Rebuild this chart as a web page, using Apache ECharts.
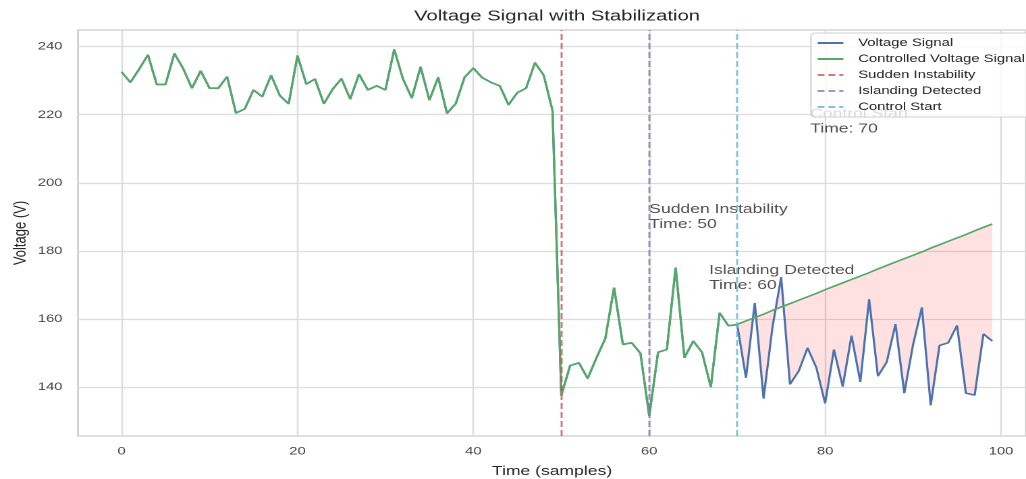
<!DOCTYPE html>
<html>
<head>
<meta charset="utf-8">
<title>Voltage Signal with Stabilization</title>
<script src="https://cdn.jsdelivr.net/npm/echarts@6/dist/echarts.min.js"></script>
<style>
  html, body { margin: 0; padding: 0; background: #ffffff; overflow: hidden; }
  /* The figure is drawn on a narrower canvas and widened to its display width */
  #chart { width: 760px; height: 479px; transform: scaleX(1.35); transform-origin: 0 0; }
</style>
</head>
<body>
<div id="chart"></div>
<script>
// Samples 0..69: measured voltage (identical for raw and controlled signal)
const baseline = [
  232.6, 229.5, 233.4, 237.6, 228.9, 228.9, 238.0, 233.6, 227.8, 232.9,
  227.8, 227.8, 231.2, 220.5, 221.7, 227.3, 225.3, 231.6, 225.6, 223.2,
  237.4, 229.0, 230.5, 223.2, 227.5, 230.6, 224.6, 231.9, 227.3, 228.5,
  227.3, 239.2, 230.5, 224.9, 234.1, 224.3, 231.0, 220.4, 223.3, 231.0,
  233.7, 230.9, 229.5, 228.5, 222.9, 226.5, 227.8, 235.3, 231.6, 221.2,
  137.5, 146.3, 147.1, 142.5, 148.6, 154.2, 169.2, 152.5, 153.0, 149.9,
  131.5, 150.2, 151.0, 175.1, 148.6, 153.5, 150.2, 140.0, 161.8, 158.0
];
// Samples 70..99: uncontrolled islanded voltage
const islandTail = [
  158.3, 142.7, 164.7, 136.6, 157.4, 172.3, 140.8, 144.7, 151.5, 145.7,
  135.2, 151.0, 140.1, 155.1, 141.5, 165.8, 143.2, 147.3, 158.5, 138.2,
  152.5, 163.4, 134.6, 152.2, 153.0, 158.1, 138.2, 137.6, 155.6, 153.5
];
// Samples 70..99: voltage with the stabilization controller active
const controlTail = [
  158.4, 159.4, 160.4, 161.4, 162.5, 163.5, 164.5, 165.5, 166.5, 167.5,
  168.6, 169.6, 170.6, 171.6, 172.6, 173.6, 174.7, 175.7, 176.7, 177.7,
  178.7, 179.7, 180.8, 181.8, 182.8, 183.8, 184.8, 185.9, 186.9, 187.9
];
// Event markers
const eventNames = ['Sudden Instability', 'Islanding Detected', 'Control Start'];
const eventTimes = [50, 60, 70];
const eventColors = ['rgba(196,78,82,0.75)', 'rgba(129,114,178,0.75)', 'rgba(100,181,205,0.8)'];
// Annotation text anchors [time, voltage]
const notePositions = [[60, 190], [66.8, 172], [78.3, 218]];
// Axis ticks
const xTicks = [0, 20, 40, 60, 80, 100];
const yTicks = [140, 160, 180, 200, 220, 240];

const controlFrom = 70;
const voltage = baseline.concat(islandTail);
const controlled = baseline.concat(controlTail);
const toPairs = arr => arr.map((v, i) => [i, v]);

const fillData = islandTail.map((v, k) => [controlFrom + k, v, controlTail[k]]);

const font = 'Arial, "Liberation Sans", "DejaVu Sans", sans-serif';
const textColor = '#262626';
const tickColor = '#474747';
const gridColor = '#dcdcdc';

const chart = echarts.init(document.getElementById('chart'), null, { renderer: 'canvas', devicePixelRatio: 2 });

const eventSeries = eventNames.map((name, k) => ({
  name: name,
  type: 'line',
  data: [],
  symbol: 'none',
  lineStyle: { color: eventColors[k], width: 1.5, type: [5, 3] },
  itemStyle: { color: eventColors[k] },
  markLine: {
    silent: true,
    symbol: 'none',
    label: { show: false },
    lineStyle: { color: eventColors[k], width: 1.5, type: [6, 3] },
    data: [{ xAxis: eventTimes[k] }],
    z: 3
  }
}));

const noteSeries = {
  type: 'scatter',
  silent: true,
  symbolSize: 0,
  z: 1,
  data: notePositions.map((p, k) => ({
    value: p,
    label: {
      show: true,
      position: 'inside',
      align: 'left',
      verticalAlign: 'middle',
      formatter: eventNames[k] + '\nTime: ' + eventTimes[k],
      fontFamily: font,
      fontSize: 13,
      lineHeight: 15,
      color: textColor
    }
  }))
};

const axisCommon = {
  type: 'value',
  nameLocation: 'middle',
  nameMoveOverlap: false,
  nameTextStyle: { fontFamily: font, fontSize: 13, color: textColor },
  axisLine: { show: false, onZero: false },
  splitLine: { show: true, lineStyle: { color: gridColor, width: 1.2 } }
};

const option = {
  animation: false,
  backgroundColor: '#ffffff',
  graphic: [{
    type: 'text',
    x: 412.6,
    y: 9,
    style: {
      text: 'Voltage Signal with Stabilization',
      fill: textColor,
      font: '15px ' + font,
      textAlign: 'center'
    }
  }],
  grid: {
    left: 57.8, top: 30, right: 0, bottom: 43,
    containLabel: false,
    outerBoundsMode: 'none',
    show: true,
    backgroundColor: 'transparent',
    borderColor: '#cccccc',
    borderWidth: 1.3
  },
  legend: {
    orient: 'vertical',
    left: 600.7,
    top: 33,
    data: ['Voltage Signal', 'Controlled Voltage Signal'].concat(eventNames),
    backgroundColor: 'rgba(255,255,255,0.8)',
    borderColor: '#d0d0d0',
    borderWidth: 1,
    borderRadius: 3,
    padding: [4, 10, 4, 4],
    itemWidth: 19,
    itemHeight: 10,
    itemGap: 4,
    itemStyle: { opacity: 0 },
    textStyle: { fontFamily: font, fontSize: 11, lineHeight: 12, color: textColor, padding: [0, 0, 0, 6] },
    z: 10
  },
  xAxis: Object.assign({}, axisCommon, {
    min: -4.95,
    max: 102.84,
    name: 'Time (samples)',
    nameGap: 29,
    axisTick: { show: false, customValues: xTicks },
    axisLabel: { fontFamily: font, fontSize: 11, color: tickColor, margin: 10, customValues: xTicks }
  }),
  yAxis: Object.assign({}, axisCommon, {
    min: 125.6,
    max: 244.9,
    name: 'Voltage (V)',
    nameGap: 36,
    nameRotate: 90,
    axisTick: { show: false, customValues: yTicks },
    axisLabel: { fontFamily: font, fontSize: 11, color: tickColor, margin: 11.5, customValues: yTicks }
  }),
  series: [
    {
      type: 'custom',
      silent: true,
      z: 1,
      data: fillData,
      encode: { x: 0, y: [1, 2] },
      renderItem: function (params, api) {
        if (params.dataIndexInside !== 0) return null;
        const pts = [];
        for (let k = 0; k < controlTail.length; k++) {
          pts.push(api.coord([controlFrom + k, controlTail[k]]));
        }
        for (let k = islandTail.length - 1; k >= 0; k--) {
          pts.push(api.coord([controlFrom + k, islandTail[k]]));
        }
        return {
          type: 'polygon',
          shape: { points: pts },
          style: { fill: 'rgba(255,40,40,0.14)', stroke: null }
        };
      }
    },
    {
      name: 'Voltage Signal',
      type: 'line',
      data: toPairs(voltage),
      symbol: 'none',
      z: 2,
      lineStyle: { color: '#4C72B0', width: 1.6 },
      itemStyle: { color: '#4C72B0' }
    },
    {
      name: 'Controlled Voltage Signal',
      type: 'line',
      data: toPairs(controlled),
      symbol: 'none',
      z: 2,
      lineStyle: { color: '#55A868', width: 1.6 },
      itemStyle: { color: '#55A868' }
    }
  ].concat(eventSeries, [noteSeries])
};

chart.setOption(option);
</script>
</body>
</html>
